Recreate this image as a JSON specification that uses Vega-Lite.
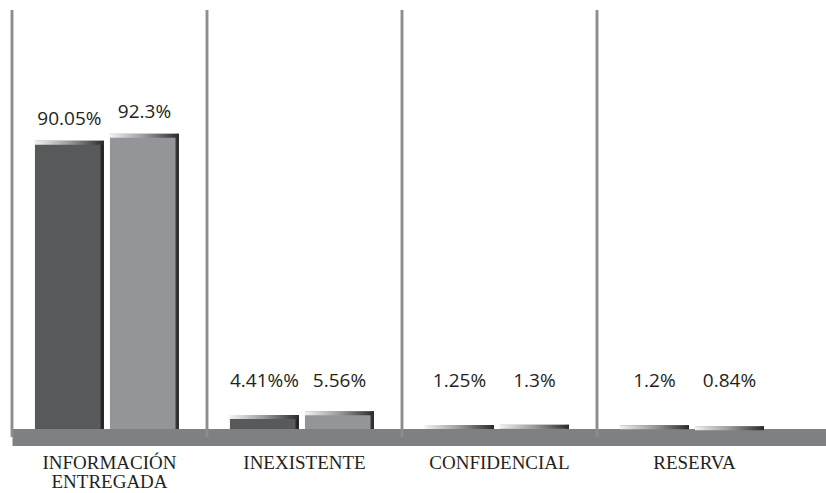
{
  "$schema": "https://vega.github.io/schema/vega-lite/v6.json",
  "width": 816,
  "height": 427,
  "padding": {"left": 10, "top": 8, "right": 0, "bottom": 0},
  "autosize": {"type": "pad"},
  "background": "#ffffff",
  "config": {
    "view": {"stroke": null},
    "axisX": {
      "domainColor": "#7f8083",
      "domainWidth": 17,
      "ticks": false,
      "grid": false,
      "labelPadding": 31,
      "labelBaseline": "alphabetic",
      "labelFont": "Liberation Serif",
      "labelFontSize": 19,
      "labelColor": "#231f20",
      "labelAngle": 0,
      "labelLineHeight": 19.5,
      "labelLimit": 0,
      "zindex": 1
    }
  },
  "data": {
    "values": [
      {"categoria": "INFORMACIÓN ENTREGADA", "serie": "S1", "valor": 90.05, "etiqueta": "90.05%"},
      {"categoria": "INFORMACIÓN ENTREGADA", "serie": "S2", "valor": 92.3, "etiqueta": "92.3%"},
      {"categoria": "INEXISTENTE", "serie": "S1", "valor": 4.41, "etiqueta": "4.41%%"},
      {"categoria": "INEXISTENTE", "serie": "S2", "valor": 5.56, "etiqueta": "5.56%"},
      {"categoria": "CONFIDENCIAL", "serie": "S1", "valor": 1.25, "etiqueta": "1.25%"},
      {"categoria": "CONFIDENCIAL", "serie": "S2", "valor": 1.3, "etiqueta": "1.3%"},
      {"categoria": "RESERVA", "serie": "S1", "valor": 1.2, "etiqueta": "1.2%"},
      {"categoria": "RESERVA", "serie": "S2", "valor": 0.84, "etiqueta": "0.84%"}
    ]
  },
  "encoding": {
    "x": {
      "field": "categoria",
      "type": "nominal",
      "sort": null,
      "title": null,
      "scale": {"type": "band", "paddingInner": 0, "paddingOuter": 0.0923, "align": 0},
      "axis": {"labelExpr": "datum.label == 'INFORMACIÓN ENTREGADA' ? ['INFORMACIÓN', 'ENTREGADA'] : datum.label"}
    }
  },
  "layer": [
    {
      "mark": {"type": "rule", "stroke": "#8c8d90", "strokeWidth": 2.5},
      "encoding": {
        "x": {
          "field": "categoria",
          "type": "nominal",
          "sort": null,
          "title": null,
          "bandPosition": 0,
          "axis": {"labelExpr": "datum.label == 'INFORMACIÓN ENTREGADA' ? ['INFORMACIÓN', 'ENTREGADA'] : datum.label"}
        }
      }
    },
    {
      "mark": {"type": "bar"},
      "encoding": {
        "xOffset": {"field": "serie", "type": "nominal", "scale": {"paddingInner": 0.08, "paddingOuter": 0.34, "align": 0.45}},
        "y": {"field": "valor", "type": "quantitative", "scale": {"domain": [-2.5, 130.94], "nice": false}, "axis": null},
        "y2": {"datum": 0},
        "fill": {
          "condition": {
            "test": "datum.serie === 'S1'",
            "value": {"gradient": "linear", "x1": 0, "y1": 0, "x2": 1, "y2": 0,
              "stops": [
                {"offset": 0, "color": "#58595b"},
                {"offset": 0.94, "color": "#58595b"},
                {"offset": 0.96, "color": "#2a2a2c"},
                {"offset": 1, "color": "#1c1c1e"}
              ]}
          },
          "value": {"gradient": "linear", "x1": 0, "y1": 0, "x2": 1, "y2": 0,
            "stops": [
              {"offset": 0, "color": "#939598"},
              {"offset": 0.94, "color": "#939598"},
              {"offset": 0.96, "color": "#3a3a3c"},
              {"offset": 1, "color": "#222224"}
            ]}
        }
      }
    },
    {
      "mark": {
        "type": "tick",
        "orient": "horizontal",
        "thickness": 4,
        "size": 69,
        "yOffset": 2,
        "filled": true,
        "opacity": 1,
        "fill": {"gradient": "linear", "x1": 0, "y1": 0, "x2": 1, "y2": 0,
          "stops": [
            {"offset": 0, "color": "#f2f2f2"},
            {"offset": 0.5, "color": "#9a9a9c"},
            {"offset": 1, "color": "#2a2a2c"}
          ]}
      },
      "encoding": {
        "xOffset": {"field": "serie", "type": "nominal", "scale": {"paddingInner": 0.08, "paddingOuter": 0.34, "align": 0.45}},
        "y": {"field": "valor", "type": "quantitative"}
      }
    },
    {
      "transform": [{"filter": "datum.categoria === 'INFORMACIÓN ENTREGADA'"}],
      "mark": {"type": "text", "font": "Open Sans", "fontSize": 19, "fill": "#231f20", "align": "center", "baseline": "middle", "dy": -22},
      "encoding": {
        "xOffset": {"field": "serie", "type": "nominal", "scale": {"paddingInner": 0.08, "paddingOuter": 0.34, "align": 0.45}},
        "y": {"field": "valor", "type": "quantitative"},
        "text": {"field": "etiqueta"}
      }
    },
    {
      "transform": [{"filter": "datum.categoria !== 'INFORMACIÓN ENTREGADA'"}],
      "mark": {"type": "text", "font": "Open Sans", "fontSize": 19, "fill": "#231f20", "align": "center", "baseline": "middle"},
      "encoding": {
        "xOffset": {"field": "serie", "type": "nominal", "scale": {"paddingInner": 0.08, "paddingOuter": 0.34, "align": 0.45}},
        "y": {"datum": 15},
        "text": {"field": "etiqueta"}
      }
    }
  ]
}
